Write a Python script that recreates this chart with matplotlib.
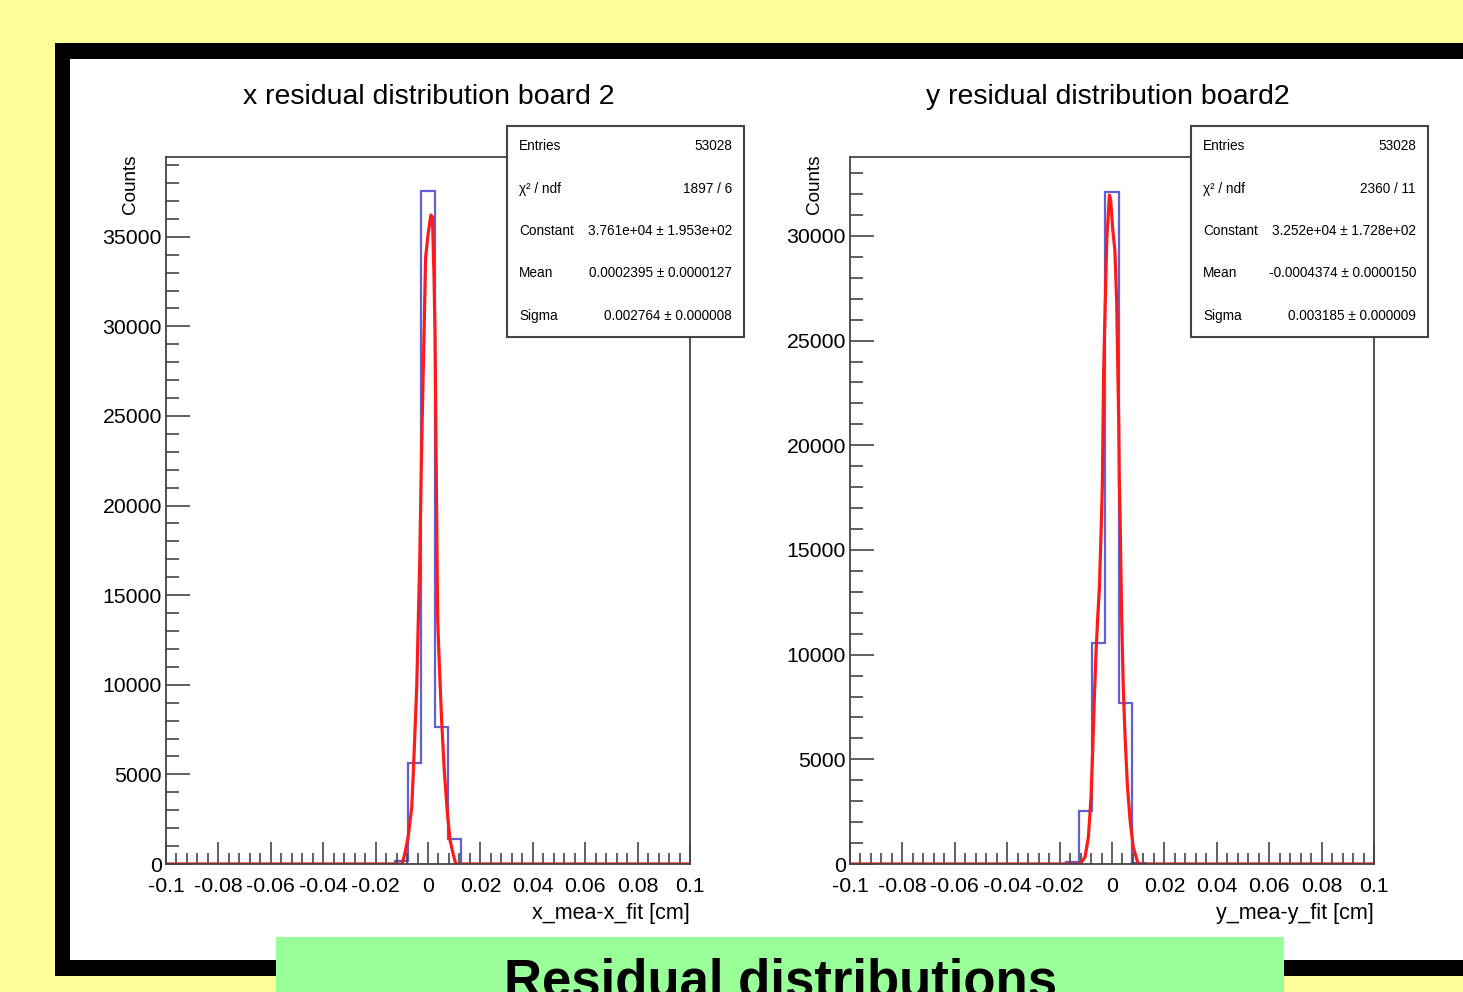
import numpy as np
import matplotlib
matplotlib.use("Agg")
import matplotlib.pyplot as plt
import matplotlib.patches as mpatches
from matplotlib.ticker import MultipleLocator, FixedLocator, FixedFormatter

plt.rcParams['font.family'] = ['Liberation Sans', 'DejaVu Sans']

W, H = 1463, 992

# histogram bins (bin centres, bin width 0.005 cm)
bin_width = 0.005
x_centers = [-0.01, -0.005, 0.0, 0.005, 0.01]
x_counts = [150, 5650, 37570, 7660, 1400]
y_centers = [-0.015, -0.01, -0.005, 0.0, 0.005, 0.01]
y_counts = [80, 2550, 10540, 32080, 7680, 60]

# gaussian fit curves as drawn
x_fit_x = [-0.1, -0.0099, -0.0088, -0.0076, -0.0062, -0.0056, -0.0050, -0.0043,
           -0.0037, -0.0031, -0.0025, -0.0020, -0.0014, -0.0009, 0.0001, 0.0011,
           0.0017, 0.0023, 0.0027, 0.0029, 0.0031, 0.0033, 0.0035, 0.0037,
           0.0044, 0.0052, 0.0062, 0.0074, 0.0084, 0.0097, 0.0106, 0.1]
x_fit_y = [0, 0, 600, 1500, 3180, 5080, 7310, 9880,
           13600, 17350, 22700, 26280, 30350, 33870, 35210, 36210,
           36100, 32750, 29400, 26060, 22710, 19590, 16400, 13600,
           10830, 8040, 5250, 2850, 1340, 500, 0, 0]
y_fit_x = [-0.1, -0.0122, -0.0103, -0.0090, -0.0080, -0.0074, -0.0068, -0.0061,
           -0.0055, -0.0048, -0.0042, -0.0037, -0.0032, -0.0028, -0.0024, -0.0020,
           -0.0010, -0.0005, 0.0003, 0.0011, 0.0018, 0.0022, 0.0026, 0.0028,
           0.0031, 0.0033, 0.0037, 0.0043, 0.0050, 0.0059, 0.0069, 0.0081, 0.0100, 0.1]
y_fit_y = [0, 0, 330, 1290, 3200, 5300, 7690, 10080,
           11650, 13230, 15700, 18000, 23450, 25650, 27750, 29800,
           31950, 31710, 30280, 29320, 26790, 23740, 20870, 18200,
           16570, 14850, 11650, 8450, 6070, 3680, 2100, 810, 0, 0]

xtick_pos = [-0.1, -0.08, -0.06, -0.04, -0.02, 0.0, 0.02, 0.04, 0.06, 0.08, 0.1]
xtick_labels = ["-0.1", "-0.08", "-0.06", "-0.04", "-0.02", "0", "0.02", "0.04", "0.06", "0.08", "0.1"]

stats_labels = ["Entries", "\u03c7\u00b2 / ndf", "Constant", "Mean", "Sigma"]
x_stats = ["53028", "1897 / 6", "3.761e+04 \u00b1 1.953e+02", "0.0002395 \u00b1 0.0000127", "0.002764 \u00b1 0.000008"]
y_stats = ["53028", "2360 / 11", "3.252e+04 \u00b1 1.728e+02", "-0.0004374 \u00b1 0.0000150", "0.003185 \u00b1 0.000009"]


def fx(x):
    return x / W


def fy(y):
    return 1 - y / H


def frect(fig, x0, y0, x1, y1, **kw):
    r = mpatches.Rectangle((fx(x0), fy(y1)), fx(x1) - fx(x0), fy(y0) - fy(y1),
                           transform=fig.transFigure, **kw)
    fig.add_artist(r)
    return r


def hist_plot(fig, left_px, ymax, centers, counts, fit_x, fit_y, title, title_x, xlabel, stats):
    ax = fig.add_axes([fx(left_px), fy(864), 524 / W, 707 / H])
    ax.set_facecolor("none")
    edges = np.arange(-0.1025, 0.1026, bin_width)
    full = np.zeros(len(edges) - 1)
    for c, n in zip(centers, counts):
        full[int(round((c + 0.1) / bin_width))] = n
    ax.stairs(full, edges, color="#6060d4", lw=1.6)
    ax.plot(fit_x, fit_y, color="#ff1a1a", lw=2.3)
    ax.set_xlim(-0.1, 0.1)
    ax.set_ylim(0, ymax)
    for s in ax.spines.values():
        s.set_color("#444444")
        s.set_linewidth(1.3)
    ax.xaxis.set_major_locator(FixedLocator(xtick_pos))
    ax.xaxis.set_major_formatter(FixedFormatter(xtick_labels))
    ax.xaxis.set_minor_locator(MultipleLocator(0.004))
    ax.yaxis.set_major_locator(MultipleLocator(5000))
    ax.yaxis.set_minor_locator(MultipleLocator(1000))
    ax.tick_params(axis="both", which="both", direction="in", color="#444444",
                   top=False, right=False, labelsize=15.3, width=1.2)
    ax.tick_params(axis="x", which="major", length=16, pad=9.5)
    ax.tick_params(axis="x", which="minor", length=8)
    ax.tick_params(axis="y", which="major", length=17, pad=3)
    ax.tick_params(axis="y", which="minor", length=9)

    fig.text(fx(title_x), fy(97), title, ha="center", va="center", fontsize=20.5)
    fig.text(fx(left_px + 524), fy(913), xlabel, ha="right", va="center", fontsize=15.5)
    fig.text(fx(left_px - 35), fy(155), "Counts", ha="center", va="top",
             rotation=90, fontsize=13.6)

    bx0 = left_px + 341
    frect(fig, bx0, 126, bx0 + 237, 337, facecolor="white", edgecolor="#444444",
          lw=1.5, zorder=5)
    for i, (lab, val) in enumerate(zip(stats_labels, stats)):
        yy = 146.5 + i * 42.3
        fig.text(fx(bx0 + 12), fy(yy), lab, ha="left", va="center", fontsize=9.8, zorder=6)
        fig.text(fx(bx0 + 225), fy(yy), val, ha="right", va="center", fontsize=9.8, zorder=6)
    return ax


fig = plt.figure(figsize=(W / 100, H / 100), dpi=100)
fig.patch.set_facecolor("#ffff99")

frect(fig, 55, 43, W + 5, 976, facecolor="black", edgecolor="none", zorder=-3)
frect(fig, 70, 59, W + 5, 960, facecolor="white", edgecolor="none", zorder=-2)

hist_plot(fig, 166, 39450, x_centers, x_counts, x_fit_x, x_fit_y,
          "x residual distribution board 2", 429, "x_mea-x_fit [cm]", x_stats)
hist_plot(fig, 850, 33770, y_centers, y_counts, y_fit_x, y_fit_y,
          "y residual distribution board2", 1108, "y_mea-y_fit [cm]", y_stats)

frect(fig, 276, 937, 1284, H + 5, facecolor="#99ff99", edgecolor="none", zorder=7)
fig.text(fx(781), fy(996), "Residual distributions", ha="center", va="baseline",
         fontsize=38, fontweight="bold", zorder=8)

fig.savefig("out.png", dpi=100, facecolor=fig.get_facecolor())
